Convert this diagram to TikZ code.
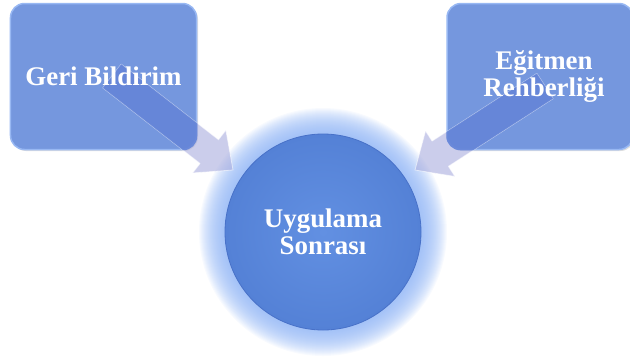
\documentclass[tikz,border=0pt]{standalone}
\usepackage{fontspec}
\setmainfont{Liberation Serif}
\usetikzlibrary{calc,shadows}
\definecolor{boxblue}{RGB}{117,151,222}
\definecolor{boxedge}{RGB}{152,184,243}
\definecolor{circblue}{RGB}{98,144,226}
\definecolor{circrim}{RGB}{84,129,214}
\definecolor{circedge}{RGB}{72,113,200}
\definecolor{glowblue}{RGB}{140,178,245}
\definecolor{arrowfill}{RGB}{168,172,222}
\definecolor{bandblue}{RGB}{88,125,214}

% outline of a block arrow from #1 (tail) to #2 (tip)
\newcommand\blockarrowpath[2]{%
    ($(#1)!15bp!90:(#2)$) -- ($(#1-h)!15bp!-90:(#1)$) --
    ($(#1-h)!27bp!-90:(#1)$) -- (#2) --
    ($(#1-h)!27bp!90:(#1)$) -- ($(#1-h)!15bp!90:(#1)$) --
    ($(#1)!15bp!-90:(#2)$) -- cycle}

\begin{document}
\begin{tikzpicture}[x=1bp,y=-1bp,
  boxtext/.style={text=white,font=\bfseries\fontsize{27}{27}\selectfont,align=center},
  panel/.style={rounded corners=14bp, fill=boxblue, draw=boxedge, line width=1.5bp,
    drop shadow={opacity=0.25, shadow xshift=1.5bp, shadow yshift=-1.5bp},
    minimum width=186bp, minimum height=146bp, inner sep=0pt},
  hub/.style={circle, minimum size=196bp, inner sep=0pt, inner color=circblue,
    outer color=circrim, draw=circedge, line width=0.8bp},
  blockarrow/.style={fill=arrowfill, fill opacity=0.6, draw=white, draw opacity=0.55,
    line width=0.8bp, line join=round}]
\useasboundingbox (0,0) rectangle (630,356);

% soft halo around the central circle
\coordinate (pc) at (323,232);
\foreach \i in {0,...,25}
  \fill[glowblue, opacity=0.06] (pc) circle [radius={(124-\i)*1bp}];

\node[hub] (post) at (pc) {};

\node[panel] (fb) at (103.5,76.5) {};
\node[panel] (guide) at (540,76.5) {};

% arrows pointing into the circle
\coordinate (la) at (112,76);
\coordinate (lt) at (233,170);
\coordinate (ra) at (545,86);
\coordinate (rt) at (415,170);
\coordinate (la-h) at ($(lt)!30bp!(la)$);
\coordinate (ra-h) at ($(rt)!30bp!(ra)$);

\path[blockarrow] \blockarrowpath{la}{lt};
\path[blockarrow] \blockarrowpath{ra}{rt};

% inside the panels the arrows show as a slightly deeper blue band
\begin{scope}
  \clip[rounded corners=14bp] (fb.south west) rectangle (fb.north east);
  \fill[bandblue, fill opacity=0.75] \blockarrowpath{la}{lt};
\end{scope}
\begin{scope}
  \clip[rounded corners=14bp] (guide.south west) rectangle (guide.north east);
  \fill[bandblue, fill opacity=0.75] \blockarrowpath{ra}{rt};
\end{scope}

\node[boxtext] (fbtext) at (fb.center) {Geri Bildirim};
\node[boxtext] (guidetext) at ([xshift=4bp]guide.center) {Eğitmen\\Rehberliği};
\node[boxtext] (posttext) at (post.center) {Uygulama\\Sonrası};
\end{tikzpicture}
\end{document}
